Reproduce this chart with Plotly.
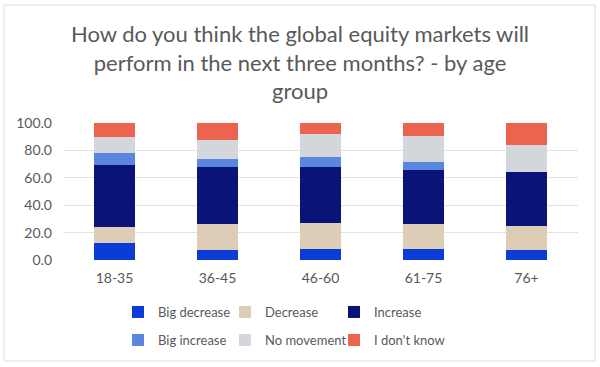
import plotly.graph_objects as go

categories = ["18-35", "36-45", "46-60", "61-75", "76+"]
big_decrease = [12.7, 7.3, 7.8, 7.8, 7.3]
decrease = [11.7, 18.8, 19.0, 18.5, 17.6]
increase = [45.1, 41.5, 41.0, 39.6, 39.0]
big_increase = [8.5, 6.1, 7.1, 5.3, 0.0]
no_movement = [11.8, 13.6, 17.1, 19.0, 19.8]
dont_know = [10.2, 12.7, 8.0, 9.8, 16.3]

series = [
    ("Big decrease", big_decrease, "#0b3dd6"),
    ("Decrease", decrease, "#ddcdb6"),
    ("Increase", increase, "#0a1478"),
    ("Big increase", big_increase, "#5a86df"),
    ("No movement", no_movement, "#d3d7dc"),
    ("I don't know", dont_know, "#ec6350"),
]

# plot area in pixels
L, R, T, B = 63, 578, 123, 260
PW, PH = R - L, B - T

def px_x(p):
    return (p - L) / PW

def px_y(p):
    return (B - p) / PH

legend_left_px = [118, 225, 334]
legend_row_px = [312, 340]

grey = "#595959"
font = "Lato"

fig = go.Figure()
legends = {}
for i, (name, vals, color) in enumerate(series):
    key = "legend" if i == 0 else f"legend{i + 1}"
    fig.add_trace(go.Bar(x=categories, y=vals, name=name, marker_color=color,
                         marker_line_width=0, legend=key, showlegend=True))
    col, row = i % 3, i // 3
    legends[key] = dict(x=px_x(legend_left_px[col]), y=px_y(legend_row_px[row]),
                        xanchor="left", yanchor="middle", orientation="h",
                        font=dict(family=font, size=13, color=grey),
                        bgcolor="rgba(0,0,0,0)", borderwidth=0, visible=True)

fig.update_layout(
    width=600, height=367,
    showlegend=True,
    barmode="stack", bargap=0.61,
    paper_bgcolor="white", plot_bgcolor="white",
    margin=dict(l=L, r=600 - R, t=T, b=367 - B, autoexpand=False),
    title=dict(text="How do you think the global equity markets will<br>perform in the next three months? - by age<br>group",
               x=0.5, xanchor="center", xref="container",
               y=1 - 42 / 367, yanchor="middle", yref="container",
               font=dict(family=font, size=22, color=grey)),
    font=dict(family=font, color=grey),
    xaxis=dict(showgrid=False, showline=False, ticks="", ticklabelstandoff=8,
               tickfont=dict(family=font, size=14, color=grey)),
    yaxis=dict(range=[0, 100], dtick=20, tickformat=".1f", showgrid=True,
               showline=False, ticklabelstandoff=10,
               gridcolor="#e3e3e3", gridwidth=1, zeroline=False,
               tickfont=dict(family=font, size=14, color=grey)),
    shapes=[dict(type="rect", xref="paper", yref="paper",
                 x0=px_x(4), x1=px_x(595), y0=px_y(361), y1=px_y(5),
                 line=dict(color="#dcdcdc", width=1), layer="below")],
    **legends,
)

fig.write_html("out.html", config={"displayModeBar": False},
               post_script="document.body.style.margin='0';document.body.style.overflow='hidden';")
